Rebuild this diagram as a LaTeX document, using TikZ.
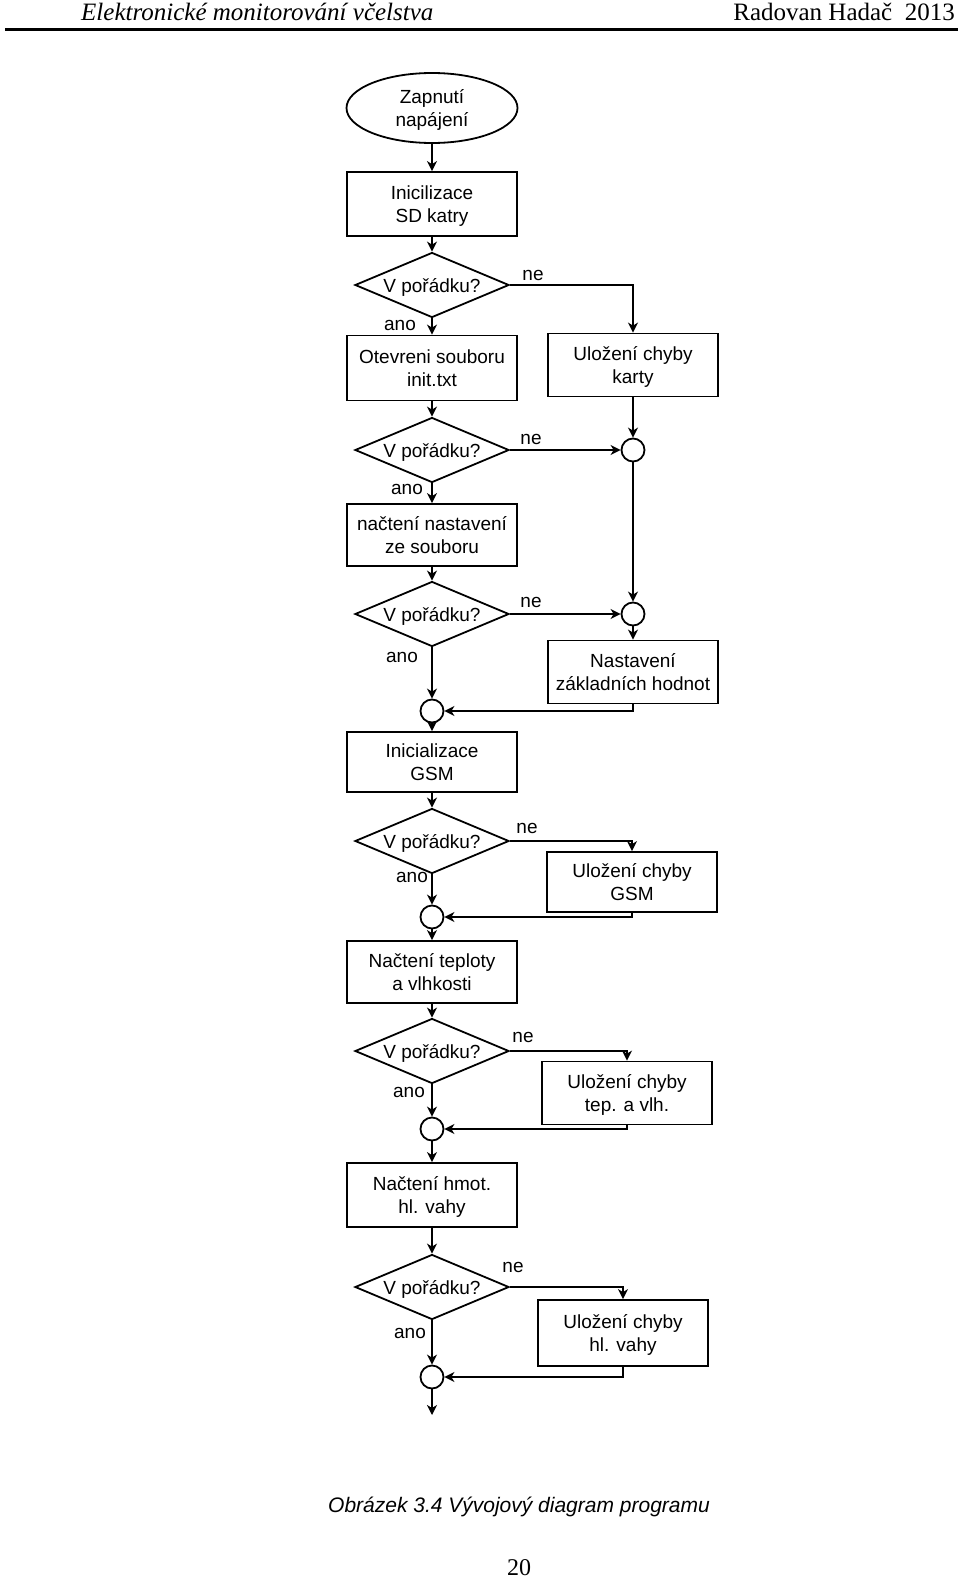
\documentclass[tikz,border=0pt]{standalone}
\usepackage{fontspec}
\setmainfont{Liberation Serif}
\newfontfamily\arialf{Liberation Sans}
\usetikzlibrary{shapes.geometric,arrows.meta}
\newcommand\mytxt[1]{\raisebox{-2.5pt}[\height][\depth]{\begin{tabular}{@{}c@{}}#1\end{tabular}}}
\begin{document}
\begin{tikzpicture}[x=1pt,y=-1pt,
  every node/.style={font=\arialf\fontsize{19}{23.5}\selectfont, inner sep=0pt},
  proc/.style={draw, rectangle, line width=1.8pt, minimum width=170pt, minimum height=63pt},
  dec/.style={draw, diamond, line width=1.8pt, aspect=2.37, minimum width=154pt, minimum height=65pt},
  junc/.style={draw, circle, line width=1.8pt, minimum size=23pt},
  term/.style={draw, ellipse, line width=1.8pt, minimum width=171pt, minimum height=70pt},
  lbl/.style={font=\arialf\fontsize{19}{23}\selectfont},
  conn/.style={line width=1.8pt, -{Stealth[length=10pt,width=10pt,inset=3pt]}}
]
\useasboundingbox (0,0) rectangle (960,1579);

% header
\node[anchor=base west, font=\fontsize{25}{30}\selectfont\itshape] (hl) at (81,21) {Elektronické monitorování včelstva};
\node[anchor=base east, font=\fontsize{25}{30}\selectfont] (hr) at (955,21) {Radovan Hadač\ \ 2013};
\coordinate (rl) at (5,30);
\coordinate (rr) at (958,30);
\draw[line width=3pt] (rl) -- (rr);

% main column
\node[term] (start) at (432,108) {\mytxt{Zapnutí\\napájení}};
\node[proc, minimum height=64pt] (b1) at (432,204) {\mytxt{Inicilizace\\SD katry}};
\node[dec] (d1) at (432,285) {\mytxt{V pořádku?}};
\node[proc, minimum height=65pt] (b2) at (432,368) {\mytxt{Otevreni souboru\\init.txt}};
\node[dec] (d2) at (432,450) {\mytxt{V pořádku?}};
\node[proc, minimum height=62pt] (b3) at (432,535) {\mytxt{načtení nastavení\\ze souboru}};
\node[dec] (d3) at (432,614) {\mytxt{V pořádku?}};
\node[junc] (c3) at (432,711) {};
\node[proc, minimum height=60pt] (b4) at (432,762) {\mytxt{Inicializace\\GSM}};
\node[dec] (d4) at (432,841) {\mytxt{V pořádku?}};
\node[junc] (c4) at (432,917) {};
\node[proc, minimum height=62pt] (b5) at (432,972) {\mytxt{Načtení teploty\\a vlhkosti}};
\node[dec] (d5) at (432,1051) {\mytxt{V pořádku?}};
\node[junc] (c5) at (432,1129) {};
\node[proc, minimum height=64pt] (b6) at (432,1195) {\mytxt{Načtení hmot.\\hl. vahy}};
\node[dec] (d6) at (432,1287) {\mytxt{V pořádku?}};
\node[junc] (c6) at (432,1377) {};
\coordinate (end) at (432,1415);

% right column
\node[proc] (e1) at (633,365) {\mytxt{Uložení chyby\\karty}};
\node[junc] (c1) at (633,450) {};
\node[junc] (c2) at (633,614) {};
\node[proc] (e2) at (633,672) {\mytxt{Nastavení\\základních hodnot}};
\node[proc, minimum height=60pt] (e3) at (632,882) {\mytxt{Uložení chyby\\GSM}};
\node[proc] (e4) at (627,1093) {\mytxt{Uložení chyby\\tep. a vlh.}};
\node[proc, minimum height=66pt] (e5) at (623,1333) {\mytxt{Uložení chyby\\hl. vahy}};

% labels
\node[lbl] (ne1) at (533,275) {ne};
\node[lbl] (ano1) at (400,325) {ano};
\node[lbl] (ne2) at (531,439) {ne};
\node[lbl] (ano2) at (407,489) {ano};
\node[lbl] (ne3) at (531,602) {ne};
\node[lbl] (ano3) at (402,657) {ano};
\node[lbl] (ne4) at (527,828) {ne};
\node[lbl] (ano4) at (412,877) {ano};
\node[lbl] (ne5) at (523,1037) {ne};
\node[lbl] (ano5) at (409,1092) {ano};
\node[lbl] (ne6) at (513,1267) {ne};
\node[lbl] (ano6) at (410,1333) {ano};

% connectors
\draw[conn] (start) -- (b1);
\draw[conn] (b1) -- (d1);
\draw[conn] (d1.south) -- (b2);
\draw[conn] (d1.east) -| (e1.north);
\draw[conn] (b2) -- (d2);
\draw[conn] (d2.east) -- (c1.west);
\draw[conn] (e1.south) -- (c1.north);
\draw[conn] (d2.south) -- (b3);
\draw[conn] (c1.south) -- (c2.north);
\draw[conn] (b3) -- (d3);
\draw[conn] (d3.east) -- (c2.west);
\draw[conn] (c2.south) -- (e2.north);
\draw[conn] (d3.south) -- (c3.north);
\draw[conn] (e2.south) |- (c3.east);
\draw[conn] (c3.south) -- (b4);
\draw[conn] (b4) -- (d4);
\draw[conn] (d4.east) -| (e3.north);
\draw[conn] (d4.south) -- (c4.north);
\draw[conn] (e3.south) |- (c4.east);
\draw[conn] (c4.south) -- (b5);
\draw[conn] (b5) -- (d5);
\draw[conn] (d5.east) -| (e4.north);
\draw[conn] (d5.south) -- (c5.north);
\draw[conn] (e4.south) |- (c5.east);
\draw[conn] (c5.south) -- (b6);
\draw[conn] (b6) -- (d6);
\draw[conn] (d6.east) -| (e5.north);
\draw[conn] (d6.south) -- (c6.north);
\draw[conn] (e5.south) |- (c6.east);
\draw[conn] (c6.south) -- (end);

% caption and page number
\node[font=\arialf\itshape\fontsize{21}{25}\selectfont] (cap) at (519,1507) {Obrázek 3.4 Vývojový diagram programu};
\node[font=\fontsize{24}{28}\selectfont] (pg) at (519,1568) {20};
\end{tikzpicture}
\end{document}
